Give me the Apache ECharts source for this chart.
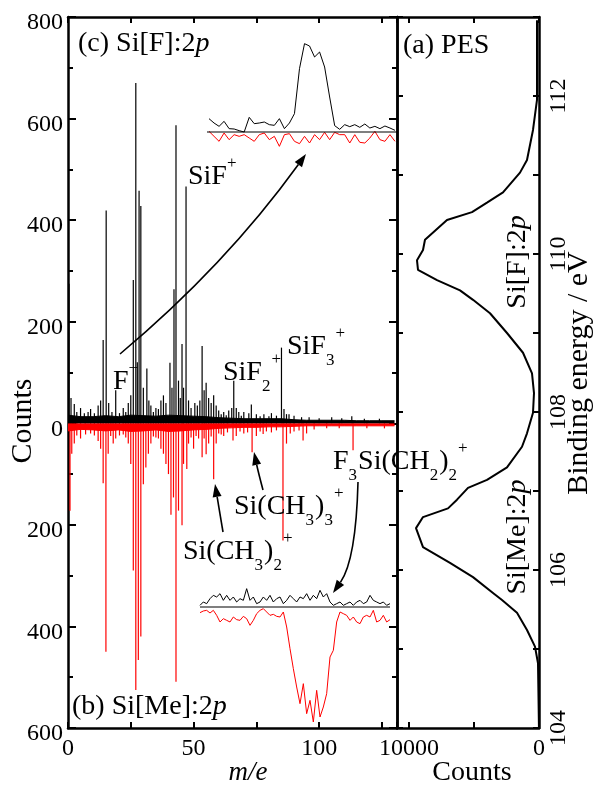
<!DOCTYPE html>
<html>
<head>
<meta charset="utf-8">
<script src="https://cdn.jsdelivr.net/npm/echarts@6/dist/echarts.min.js"></script>
<style>
html, body { margin: 0; padding: 0; background: #fff; }
#chart { width: 595px; height: 785px; }
</style>
</head>
<body>
<div id="chart"></div>
<script>
// mass spectra: [m/e, counts]; Si[F]:2p plotted up, Si[Me]:2p plotted down
var blackPeaks = [
    [0.4, 275], [1.2, 50], [2.5, 38], [3.5, 22], [5, 30], [6.5, 20], [8, 22], [9, 28], [10.5, 20], [12, 35],
    [13, 45], [14, 164], [15.2, 419], [16.2, 40], [17.5, 22], [19, 65], [20.5, 20], [22, 30], [23, 22], [24, 40],
    [25, 55], [26, 282], [27, 670], [27.6, 120], [28.3, 458], [29, 428], [30, 70], [31.4, 108], [32.2, 45], [33, 35],
    [34, 22], [35, 30], [36, 28], [37, 45], [38, 55], [39, 40], [40.6, 119], [41.4, 70], [42.2, 264], [43, 587],
    [44, 84], [44.7, 50], [45.4, 156], [46, 70], [47, 466], [48, 45], [49, 30], [50.5, 40], [51.5, 35], [52.5, 45],
    [53.4, 152], [54.2, 65], [55, 80], [56, 50], [57, 40], [58, 55], [59, 35], [60, 25], [61, 18], [62, 22],
    [63, 16], [64, 25], [65.2, 30], [66, 84], [67, 30], [68, 22], [69, 15], [70, 22], [72, 20], [73, 37],
    [75, 18], [76.5, 14], [78, 18], [80, 14], [81, 20], [83, 15], [85, 149], [86, 28], [87, 18], [88, 18],
    [90, 15], [93, 12], [96, 12], [100, 10], [105, 12], [109, 10], [113, 14], [118, 9], [124, 9]
];
var redPeaks = [
    [0.8, 172], [1.5, 60], [2.5, 40], [3.5, 24], [5, 30], [7, 22], [9, 20], [10.5, 24], [12, 35], [13, 50],
    [14, 118], [15.1, 450], [16, 60], [17, 25], [18, 40], [19, 30], [20.5, 24], [22, 22], [23, 28], [24, 40],
    [25, 80], [26, 290], [27, 525], [28, 466], [29, 420], [30, 120], [31, 87], [32, 60], [33, 40], [34, 26],
    [35, 28], [36, 30], [37, 50], [38, 60], [39, 80], [40, 100], [41, 180], [42, 146], [43, 509], [44, 172],
    [45.4, 201], [46, 80], [47.3, 90], [48, 40], [49, 28], [50, 50], [51, 25], [52, 30], [53.4, 67], [54.2, 30],
    [55, 61], [56, 40], [57, 26], [58, 110], [59, 40], [60, 20], [61, 22], [62, 25], [63.5, 18], [65.7, 34],
    [67, 25], [68.5, 16], [70, 20], [71.5, 18], [73.3, 57], [75, 25], [76.5, 16], [77.7, 21], [79, 16], [81, 18],
    [83, 14], [85.6, 231], [87, 40], [88.5, 20], [90, 16], [92, 14], [93.6, 34], [95, 20], [98, 12], [103, 10],
    [108, 10], [113.5, 53], [119, 10], [126, 10]
];
// noise band height every 5 m/e
var noiseMass = [0, 5, 10, 15, 20, 25, 30, 35, 40, 45, 50, 55, 60, 65, 70, 75, 80, 85, 90, 95, 100, 105, 110, 115, 120, 125, 130];
var blackNoise = [16, 13, 13, 15, 13, 16, 15, 14, 16, 15, 14, 13, 11, 10, 9, 9, 9, 9, 7, 6, 6, 6, 6, 5, 5, 5, 5];
var redNoise = [15, 12, 13, 15, 13, 16, 15, 13, 16, 15, 13, 12, 10, 9, 8, 8, 7, 7, 6, 5, 5, 5, 5, 5, 5, 5, 5];

// PES (a): binding energy / eV vs counts
var pesEnergy = [112.96, 111.95, 111.57, 111.19, 111.03, 110.78, 110.65, 110.53, 110.43, 110.18, 110.05, 109.92, 109.80,
    109.67, 109.54, 109.42, 109.25, 109.00, 108.75, 108.49, 108.24, 107.99, 107.73, 107.56, 107.30, 107.14, 107.04,
    106.89, 106.78, 106.67, 106.53, 106.29, 106.09, 105.91, 105.71, 105.62, 105.46, 105.24, 105.03, 104.82, 103.97];
var pesCounts = [154, 154, 461, 923, 1461, 2768, 3999, 5152, 7075, 8767, 8920, 9382, 9305,
    7844, 6075, 5075, 3768, 2461, 1230, 538, 385, 461, 923, 1307, 2461, 3999, 5460,
    6306, 6998, 8920, 9459, 8920, 6844, 5075, 3537, 2845, 1692, 923, 308, 77, 0];

// magnified insets (arbitrary units, baseline = 0)
var insetTopBlack = [40, 27, 17, 32, 10, 9, 4, 0, 44, 25, 27, 30, 22, 20, 40, 10, 27, 55, 190, 265, 258, 225, 240, 195,
    105, 19, 8, 22, 16, 22, 14, 24, 12, 17, 10, 18, 12, 5];
var insetTopRed = [-2, 13, 28, 3, 23, 8, 13, 8, 18, 28, 8, 3, 23, 13, 43, 8, 5, 28, 35, 13, 33, 8, 23, 1, 23, 1, 8, 8,
    33, 8, 31, 33, 18, -2, 23, 28, 8, 28];
var insetBottomBlack = [5, 15, 10, 25, 35, 30, 40, 20, 35, 20, 30, 15, 25, 20, 55, 20, 30, 10, 15, 30, 20, 35, 15, 25,
    30, 10, 20, 35, 25, 15, 30, 25, 40, 20, 35, 25, 50, 30, 40, 15, 5, 10, 15, 5, 10, 15, 5, 15, 20, 10, 15, 35, 20, 15,
    10, 15, 5, 10];
var insetBottomRed = [17, 12, 10, 18, 10, 25, 45, 35, 40, 45, 30, 38, 40, 28, 35, 55, 40, 20, 10, 5, 15, 25, 22, 28,
    30, 15, 60, 125, 185, 240, 290, 230, 320, 280, 345, 250, 330, 300, 260, 150, 130, 45, 15, 20, 25, 40, 30, 45, 50,
    30, 25, 30, 10, 45, 40, 25, 45, 38];

var FONT = 'Liberation Serif';
var ctx = document.createElement('canvas').getContext('2d');

function textWidth(s, size) {
    ctx.font = size + 'px "' + FONT + '"';
    return ctx.measureText(s).width;
}

function txt(x, y, s, size, opts) {
    opts = opts || {};
    return {
        type: 'text', x: x, y: y, rotation: opts.rotation || 0, z: 100,
        style: {
            text: s, fontSize: size, fontFamily: FONT, fill: '#000',
            align: opts.align || 'left', verticalAlign: 'middle',
            fontStyle: opts.italic ? 'italic' : 'normal',
            rich: opts.rich
        }
    };
}

// chemical formula with sub/superscripts laid out left to right
function chem(x, y, parts) {
    var out = [], cx = x;
    parts.forEach(function (p) {
        var kind = p[1] || 'n';
        var size = kind === 'n' ? 28 : 17;
        var dy = kind === 'sub' ? 14 : (kind === 'sup' ? -13 : 0);
        out.push(txt(cx, y + dy, p[0], size));
        cx += textWidth(p[0], size) + (kind === 'n' ? 0 : 1);
    });
    return out;
}

function arrow(x1, y1, cx, cy, x2, y2) {
    var dx = x2 - cx, dy = y2 - cy, len = Math.sqrt(dx * dx + dy * dy);
    var ux = dx / len, uy = dy / len, L = 13, W = 4.5;
    var bx = x2 - ux * L, by = y2 - uy * L;
    return [{
        type: 'bezierCurve', z: 100,
        shape: { x1: x1, y1: y1, cpx1: cx, cpy1: cy, x2: bx, y2: by },
        style: { stroke: '#000', lineWidth: 1.6, fill: null }
    }, {
        type: 'polygon', z: 100,
        shape: { points: [[x2, y2], [bx - uy * W, by + ux * W], [bx + uy * W, by - ux * W]] },
        style: { fill: '#000' }
    }];
}

function spikes(peaks, sign, color) {
    return {
        type: 'custom', xAxisIndex: 0, yAxisIndex: 0, clip: true,
        data: peaks,
        renderItem: function (params, api) {
            var p0 = api.coord([api.value(0), 0]);
            var p1 = api.coord([api.value(0), sign * api.value(1)]);
            return {
                type: 'line',
                shape: { x1: p0[0], y1: p0[1], x2: p1[0], y2: p1[1] },
                style: { stroke: color, lineWidth: 1.2 }
            };
        }
    };
}

var lbl = { fontFamily: FONT, fontSize: 24, color: '#000' };
var frame = { show: true, onZero: false, lineStyle: { color: '#000', width: 2.5 } };
var tick = { show: true, inside: true, length: 6, lineStyle: { color: '#000', width: 2 } };

var option = {
    animation: false,
    backgroundColor: '#fff',
    grid: [
        { left: 68, top: 17, width: 329, height: 711 },
        { left: 397, top: 17, width: 142, height: 711 },
        { left: 207, top: 32, width: 190, height: 116.67 },
        { left: 200, top: 580.33, width: 190, height: 146.67 }
    ],
    xAxis: [
        {
            gridIndex: 0, type: 'value', position: 'bottom', min: 0, max: 131, interval: 25,
            axisLine: frame, axisTick: tick, splitLine: { show: false },
            axisLabel: Object.assign({ margin: 9, formatter: function (v) { return v % 50 === 0 ? v : ''; } }, lbl)
        },
        {
            gridIndex: 0, type: 'value', position: 'top', min: 0, max: 131, interval: 25,
            axisLine: frame, axisTick: tick, splitLine: { show: false }, axisLabel: { show: false }
        },
        {
            gridIndex: 1, type: 'value', position: 'bottom', inverse: true, min: 0, max: 10920, interval: 5000,
            axisLine: frame, axisTick: tick, splitLine: { show: false },
            axisLabel: Object.assign({ margin: 9, formatter: function (v) { return (v === 0 || v === 10000) ? v : ''; } }, lbl)
        },
        {
            gridIndex: 1, type: 'value', position: 'top', inverse: true, min: 0, max: 10920, interval: 5000,
            axisLine: frame, axisTick: tick, splitLine: { show: false }, axisLabel: { show: false }
        },
        { gridIndex: 2, type: 'value', min: -0.4, max: 37.4, show: false },
        { gridIndex: 3, type: 'value', min: 0, max: 57, show: false }
    ],
    yAxis: [
        {
            gridIndex: 0, type: 'value', position: 'left', min: -600, max: 800, interval: 200,
            axisLine: frame, axisTick: Object.assign({}, tick, { length: 8 }), splitLine: { show: false },
            minorTick: { show: true, splitNumber: 2, length: 5, lineStyle: { color: '#000', width: 2 } },
            axisLabel: Object.assign({ margin: 5, verticalAlign: 'top', lineHeight: 12,
                formatter: function (v) { return Math.abs(v); } }, lbl)
        },
        {
            gridIndex: 0, type: 'value', position: 'right', min: -600, max: 800, interval: 200,
            axisLine: frame, axisTick: Object.assign({}, tick, { length: 8 }), splitLine: { show: false },
            minorTick: { show: true, splitNumber: 2, length: 5, lineStyle: { color: '#000', width: 2 } },
            axisLabel: { show: false }
        },
        {
            gridIndex: 1, type: 'value', position: 'left', min: 104, max: 113, interval: 1,
            axisLine: frame, axisTick: tick, splitLine: { show: false }, axisLabel: { show: false }
        },
        {
            gridIndex: 1, type: 'value', position: 'right', min: 104, max: 113, interval: 1,
            axisLine: frame, axisTick: tick, splitLine: { show: false },
            axisLabel: Object.assign({ margin: 8, rotate: 90, formatter: function (v) { return v % 2 === 0 && v < 113 ? v : ''; } }, lbl)
        },
        { gridIndex: 2, type: 'value', min: -50, max: 300, show: false },
        { gridIndex: 3, type: 'value', min: -360, max: 80, show: false }
    ],
    series: [
        {
            type: 'line', xAxisIndex: 0, yAxisIndex: 0, symbol: 'none',
            data: noiseMass.map(function (m, i) { return [m, -redNoise[i]]; }),
            lineStyle: { color: '#ff0000', width: 1 }, areaStyle: { color: '#ff0000', opacity: 1 }
        },
        spikes(redPeaks, -1, '#ff0000'),
        {
            type: 'line', xAxisIndex: 0, yAxisIndex: 0, symbol: 'none',
            data: noiseMass.map(function (m, i) { return [m, blackNoise[i]]; }),
            lineStyle: { color: '#000', width: 1 }, areaStyle: { color: '#000', opacity: 1 }
        },
        spikes(blackPeaks, 1, '#000'),
        {
            type: 'line', xAxisIndex: 2, yAxisIndex: 2, symbol: 'none',
            data: pesCounts.map(function (c, i) { return [c, pesEnergy[i]]; }),
            lineStyle: { color: '#000', width: 2 }
        },
        {
            type: 'line', xAxisIndex: 4, yAxisIndex: 4, symbol: 'none',
            data: insetTopRed.map(function (v, i) { return [i, -v]; }),
            lineStyle: { color: '#ff0000', width: 1 }
        },
        {
            type: 'line', xAxisIndex: 4, yAxisIndex: 4, symbol: 'none',
            data: [[-0.4, 0], [37.4, 0]], lineStyle: { color: '#000', width: 1.2 }
        },
        {
            type: 'line', xAxisIndex: 4, yAxisIndex: 4, symbol: 'none',
            data: insetTopBlack.map(function (v, i) { return [i, v]; }),
            lineStyle: { color: '#000', width: 1 }
        },
        {
            type: 'line', xAxisIndex: 5, yAxisIndex: 5, symbol: 'none',
            data: insetBottomRed.map(function (v, i) { return [i, -v]; }),
            lineStyle: { color: '#ff0000', width: 1 }
        },
        {
            type: 'line', xAxisIndex: 5, yAxisIndex: 5, symbol: 'none',
            data: [[0, 0], [57, 0]], lineStyle: { color: '#000', width: 1.2 }
        },
        {
            type: 'line', xAxisIndex: 5, yAxisIndex: 5, symbol: 'none',
            data: insetBottomBlack.map(function (v, i) { return [i, v]; }),
            lineStyle: { color: '#000', width: 1 }
        }
    ]
};

var ital = { n: { fontSize: 28, fontFamily: FONT }, i: { fontSize: 28, fontFamily: FONT, fontStyle: 'italic' } };
var notes = [
    txt(78, 44, '{n|(c) Si[F]:2}{i|p}', 28, { rich: ital }),
    txt(72, 707, '{n|(b) Si[Me]:2}{i|p}', 28, { rich: ital }),
    txt(403, 46, '(a) PES', 28),
    txt(518, 262, '{n|Si[F]:2}{i|p}', 28, { align: 'center', rotation: Math.PI / 2, rich: ital }),
    txt(518, 537, '{n|Si[Me]:2}{i|p}', 28, { align: 'center', rotation: Math.PI / 2, rich: ital }),
    txt(23, 421, 'Counts', 30, { align: 'center', rotation: Math.PI / 2 }),
    txt(579, 373, 'Binding energy / eV', 30, { align: 'center', rotation: Math.PI / 2 }),
    txt(248, 773, 'm/e', 27, { align: 'center', italic: true }),
    txt(472, 773, 'Counts', 28, { align: 'center' })
];
notes = notes.concat(
    chem(188, 177, [['SiF'], ['+', 'sup']]),
    chem(113, 382, [['F'], ['\u2212', 'sup']]),
    chem(223, 373, [['SiF'], ['2', 'sub'], ['+', 'sup']]),
    chem(287, 347, [['SiF'], ['3', 'sub'], ['+', 'sup']]),
    chem(234, 507, [['Si(CH'], ['3', 'sub'], [')'], ['3', 'sub'], ['+', 'sup']]),
    chem(183, 552, [['Si(CH'], ['3', 'sub'], [')'], ['2', 'sub'], ['+', 'sup']]),
    chem(333, 462, [['F'], ['3', 'sub'], ['Si(CH'], ['2', 'sub'], [')'], ['2', 'sub'], ['+', 'sup']]),
    arrow(120, 354, 225, 266, 306, 154),
    arrow(263, 490, 258, 471, 254, 452),
    arrow(223, 532, 219, 508, 215, 484),
    arrow(358, 482, 356, 560, 333, 593)
);
option.graphic = { elements: notes };

var chart = echarts.init(document.getElementById('chart'), null, { renderer: 'canvas' });
chart.setOption(option);
</script>
</body>
</html>
